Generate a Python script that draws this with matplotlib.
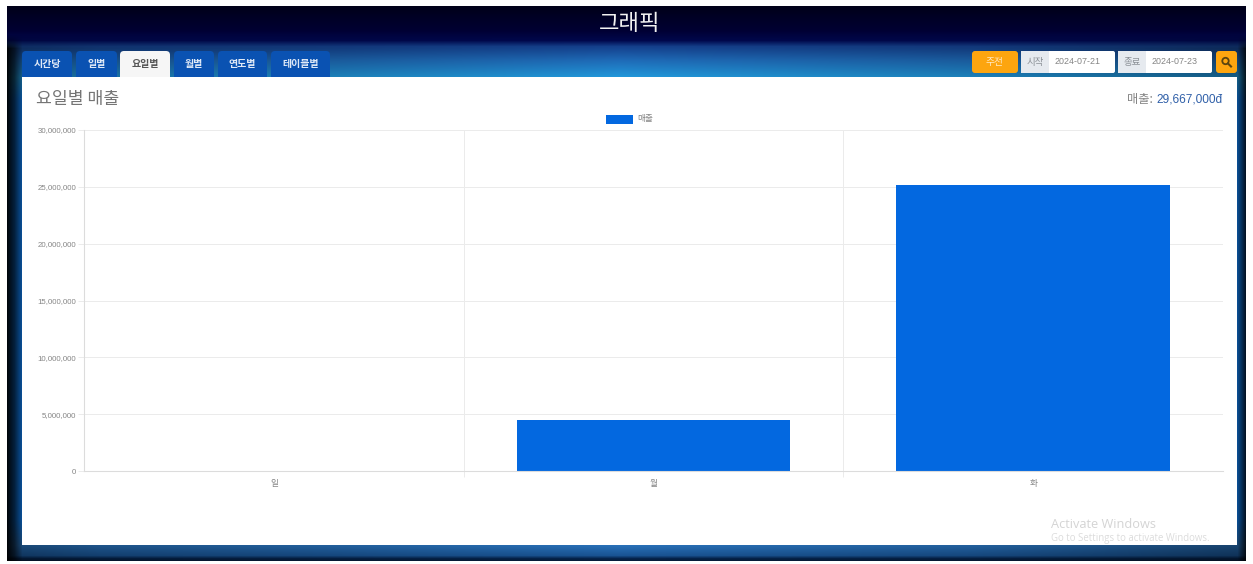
import matplotlib
matplotlib.use('Agg')
import matplotlib.pyplot as plt
import numpy as np
from matplotlib.patches import FancyBboxPatch, Rectangle

plt.rcParams['font.family'] = ['Noto Sans CJK KR', 'DejaVu Sans']

# Chart data:
days = ['일', '월', '화']
sales = [0, 4467000, 25200000]
y_ticks = [0, 5000000, 10000000, 15000000, 20000000, 25000000, 30000000]

# Page text:
tabs = ['시간당', '일별', '요일별', '월별', '연도별', '테이블별']
tab_left = [22, 76, 120, 174, 218, 271]
tab_right = [72, 117, 170, 214, 267, 330]
active_tab = 2

W, H = 1253, 564
BAR_BLUE = '#0368e0'
GRID = '#ebebeb'
TICK_TEXT = '#858585'

fig = plt.figure(figsize=(W / 100, H / 100), dpi=100, facecolor='white')

# Page layer, drawn in pixel coordinates:
bg = fig.add_axes([0, 0, 1, 1])
bg.set_xlim(0, W)
bg.set_ylim(H, 0)
bg.axis('off')

# Backdrop colours by pixel row, then dimmed towards the left and right edges
py = np.arange(6, 561)
px = np.arange(7, 1246)
rows = [6, 30, 40, 46, 60, 77, 100, 520, 545, 555, 558, 561]
red = np.interp(py, rows, [0, 0, 0, .08, .12, .13, .06, .06, .16, .1, .02, .02])
green = np.interp(py, rows, [0, 0, .03, .25, .42, .6, .5, .5, .44, .33, .14, .1])
blue = np.interp(py, rows, [.1, .2, .3, .55, .72, .86, .95, .95, .72, .58, .3, .2])
horiz = np.interp(px, [7, 14, 22, 100, 340, 620, 970, 1237, 1246], [.05, .25, .65, .75, .85, 1, .85, .6, .1])
# The side fade only starts below the dark title bar
fade = np.interp(py, [34, 48], [0, 1])
dim = 1 - np.outer(fade, 1 - horiz)
rgb = np.dstack([red[:, None] * dim, green[:, None] * dim, blue[:, None] * dim])
bg.imshow(rgb, extent=[7, 1246, 561, 6], aspect='auto', zorder=0)
bg.set_xlim(0, W)
bg.set_ylim(H, 0)

bg.text(630, 24, '그래픽', color='#f2f2f2', fontsize=16, ha='center', va='center', zorder=3)

# White panel:
bg.add_patch(Rectangle((22, 77), 1215, 468, facecolor='white', edgecolor='none', zorder=1))

# Tabs:
for i, name in enumerate(tabs):
	active = i == active_tab
	bg.add_patch(FancyBboxPatch((tab_left[i], 51), tab_right[i] - tab_left[i], 32,
		boxstyle='round,pad=0,rounding_size=4', facecolor='#f6f6f6' if active else '#0a52b2',
		edgecolor='none', zorder=0.9 if not active else 0.95))
	bg.text((tab_left[i] + tab_right[i]) / 2, 64, name, color='#555555' if active else '#dfe9f7',
		fontsize=7.2, fontweight='bold', ha='center', va='center', zorder=3)

# Date controls:
bg.add_patch(FancyBboxPatch((972, 51), 46, 22, boxstyle='round,pad=0,rounding_size=3',
	facecolor='#fda50f', edgecolor='none', zorder=2))
bg.text(995, 62, '주전', color='#ffe9c4', fontsize=7, ha='center', va='center', zorder=3)
for left, label, date in [(1021, '시작', '2024-07-21'), (1118, '종료', '2024-07-23')]:
	bg.add_patch(FancyBboxPatch((left, 51), 94, 22, boxstyle='round,pad=0,rounding_size=2',
		facecolor='white', edgecolor='none', zorder=2))
	bg.add_patch(Rectangle((left, 51), 28, 22, facecolor='#e6eaef', edgecolor='none', zorder=2.1))
	bg.text(left + 14, 62, label, color='#8a8f95', fontsize=6.8, ha='center', va='center', zorder=3)
	bg.text(left + 34, 62, date, color='#858585', fontsize=6.4, ha='left', va='center',
		family=['Liberation Sans'], zorder=3)
bg.add_patch(FancyBboxPatch((1216, 51), 21, 22, boxstyle='round,pad=0,rounding_size=3',
	facecolor='#fda50f', edgecolor='none', zorder=2))
# Search icon:
bg.add_patch(plt.Circle((1225.5, 61), 3.2, facecolor='none', edgecolor='#5a4410', linewidth=1.3, zorder=3))
bg.plot([1228, 1231], [63.5, 66.5], color='#5a4410', linewidth=1.5, zorder=3)

# Headings:
bg.text(36, 99, '요일별 매출', color='#757575', fontsize=12.4, ha='left', va='center', zorder=3)
bg.text(1153, 99, '매출:', color='#858585', fontsize=8.8, ha='right', va='center', zorder=3)
bg.text(1223, 99, '29,667,000đ', color='#2f5fa8', fontsize=8.6, ha='right', va='center',
	family=['Liberation Sans', 'DejaVu Sans'], zorder=3)

# Legend:
bg.add_patch(Rectangle((606, 115), 27, 9, facecolor=BAR_BLUE, edgecolor='none', zorder=3))
bg.text(637, 118.5, '매출', color=TICK_TEXT, fontsize=6.2, ha='left', va='center', zorder=3)

# Watermark:
bg.text(1051, 524, 'Activate Windows', color='#d4d4d4', fontsize=9.2, ha='left', va='center',
	family=['Open Sans', 'DejaVu Sans'], zorder=3)
bg.text(1051, 539, 'Go to Settings to activate Windows.', color='#dcdcdc', fontsize=6.9, ha='left', va='center',
	family=['Open Sans', 'DejaVu Sans'], zorder=3)

# Bar chart:
ax = fig.add_axes([84 / W, 1 - 471 / H, (1223 - 84) / W, (471 - 130) / H], facecolor='none')
ax.bar(range(len(days)), sales, width=0.72, color=BAR_BLUE, zorder=2)
ax.set_xlim(-0.5, 2.5)
ax.set_ylim(0, 30000000)
ax.set_yticks(y_ticks)
ax.set_yticklabels([f'{v:,}' for v in y_ticks], fontsize=5.7, color=TICK_TEXT, family=['Liberation Sans'])
ax.set_xticks([0, 1, 2])
ax.set_xticklabels(days, fontsize=6.2, color=TICK_TEXT)
ax.set_xticks([0.5, 1.5], minor=True)
ax.tick_params(axis='y', length=4, width=0.7, color=GRID, pad=1.5)
ax.tick_params(axis='x', which='major', length=0, pad=6)
ax.tick_params(axis='x', which='minor', length=4.5, width=0.7, color=GRID)
ax.grid(True, axis='y', color=GRID, linewidth=0.7, zorder=1)
ax.grid(True, axis='x', which='minor', color=GRID, linewidth=0.7, zorder=1)
for side in ['top', 'right']:
	ax.spines[side].set_visible(False)
for side in ['left', 'bottom']:
	ax.spines[side].set_color('#dcdcdc')
	ax.spines[side].set_linewidth(0.8)

fig.savefig('out.png', dpi=100)
